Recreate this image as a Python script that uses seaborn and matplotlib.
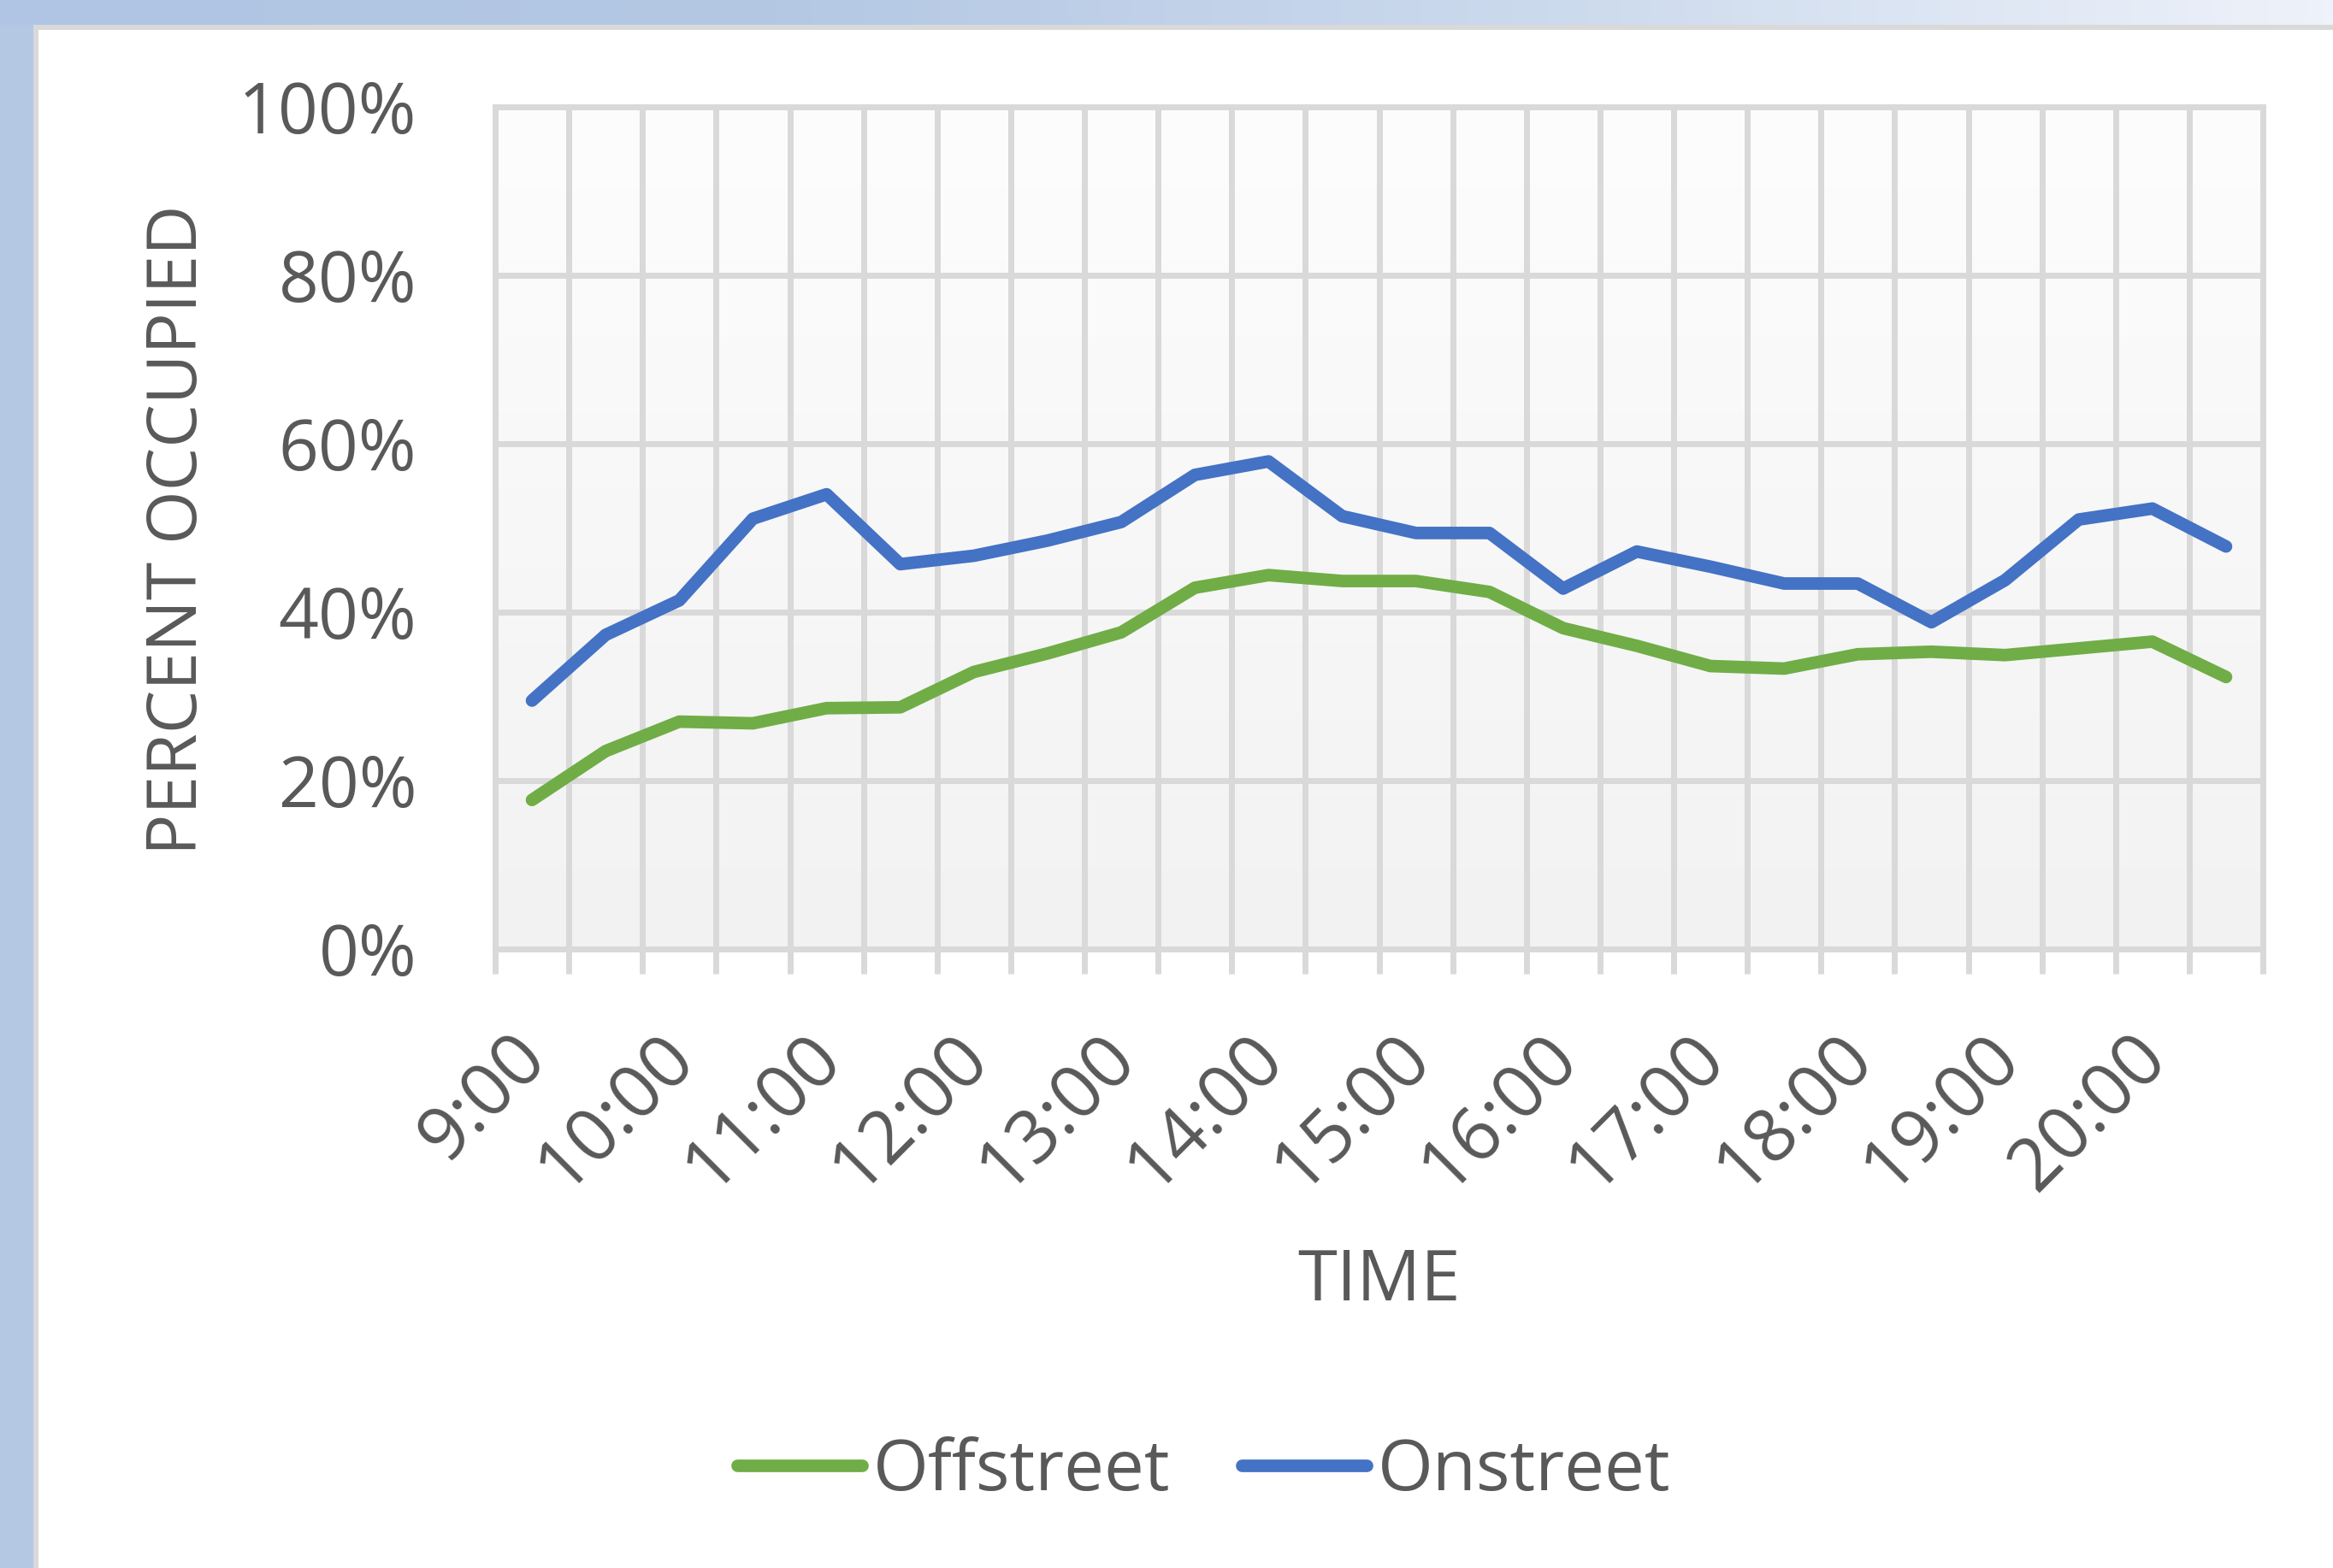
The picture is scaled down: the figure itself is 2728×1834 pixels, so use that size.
import numpy as np
import pandas as pd
import matplotlib
matplotlib.use("Agg")
import matplotlib.pyplot as plt
import matplotlib.transforms as mtrans
import seaborn as sns
from matplotlib.colors import LinearSegmentedColormap
from matplotlib.patches import Rectangle
from matplotlib.ticker import PercentFormatter, FixedLocator

# half-hour time slots, 9:00 through 20:30
times = ['9:00', '9:30', '10:00', '10:30', '11:00', '11:30', '12:00', '12:30',
         '13:00', '13:30', '14:00', '14:30', '15:00', '15:30', '16:00', '16:30',
         '17:00', '17:30', '18:00', '18:30', '19:00', '19:30', '20:00', '20:30']
offstreet = [17.7, 23.5, 27.0, 26.8, 28.6, 28.7, 32.9, 35.1, 37.6, 42.9, 44.4, 43.7,
             43.7, 42.4, 38.1, 36.0, 33.6, 33.3, 35.0, 35.3, 34.9, 35.7, 36.5, 32.3]
onstreet = [29.5, 37.3, 41.4, 51.1, 54.0, 45.7, 46.7, 48.5, 50.7, 56.3, 57.9, 51.4,
            49.4, 49.4, 42.8, 47.2, 45.4, 43.4, 43.4, 38.8, 43.8, 51.0, 52.3, 47.8]
hour_labels = ['9:00', '10:00', '11:00', '12:00', '13:00', '14:00',
               '15:00', '16:00', '17:00', '18:00', '19:00', '20:00']

df = pd.DataFrame({'Time': times, 'Offstreet': offstreet, 'Onstreet': onstreet})
df['pos'] = range(len(df))
long = df.melt(id_vars=['Time', 'pos'], var_name='Type', value_name='Occupied')

sns.set_theme(style='white')
plt.rcParams['font.family'] = ['Open Sans', 'DejaVu Sans']

TXT = '#595959'
GRID = '#D9D9D9'
W, H, DPI = 2728, 1834, 200
fig = plt.figure(figsize=(W / DPI, H / DPI), dpi=DPI)
fig.patch.set_facecolor('white')

# window frame: blue gradient strip on top, blue strip on left, grey border
top_ax = fig.add_axes([0, 1 - 29 / H, 1, 29 / H])
top_cmap = LinearSegmentedColormap.from_list('top', ['#AFC5E3', '#B4C8E4', '#CCDAED', '#EEF2FA'])
top_ax.imshow(np.linspace(0, 1, 256)[None, :], aspect='auto', cmap=top_cmap,
              extent=(0, 1, 0, 1))
top_ax.axis('off')
fig.patches.append(Rectangle((0, 0), 39 / W, 1, transform=fig.transFigure,
                             facecolor='#B4C8E4', edgecolor='none', zorder=-1))
fig.patches.append(Rectangle((39 / W, 0), 6 / W, 1 - 29 / H, transform=fig.transFigure,
                             facecolor=GRID, edgecolor='none', zorder=-1))
fig.patches.append(Rectangle((39 / W, 1 - 35 / H), 1, 6 / H, transform=fig.transFigure,
                             facecolor=GRID, edgecolor='none', zorder=-1))

ax = fig.add_axes([579 / W, 1 - 1110 / H, (2646 - 579) / W, (1110 - 125) / H])

# plot-area vertical gradient
bg_cmap = LinearSegmentedColormap.from_list('bg', ['#F2F2F2', '#FDFDFD'])
ax.imshow(np.linspace(0, 1, 256)[:, None], aspect='auto', cmap=bg_cmap, origin='lower',
          extent=(-0.5, len(times) - 0.5, 0, 100), zorder=0)

palette = {'Offstreet': '#70AD47', 'Onstreet': '#4472C4'}
sns.lineplot(data=long, x='pos', y='Occupied', hue='Type', palette=palette,
             ax=ax, legend=False, zorder=3)
for ln in ax.get_lines():
    ln.set_linewidth(5.3)
    ln.set_solid_joinstyle('round')

ax.set_xlim(-0.5, len(times) - 0.5)
ax.set_ylim(0, 100)
ax.set_yticks(range(0, 101, 20))
ax.yaxis.set_major_formatter(PercentFormatter(100, decimals=0))

ax.set_xticks(range(0, len(times), 2))
ax.set_xticklabels(hour_labels, rotation=45, ha='right', va='top', rotation_mode='anchor')
ax.xaxis.set_minor_locator(FixedLocator(np.arange(-0.5, len(times), 1)))

ax.grid(False)
ax.grid(which='minor', axis='x', color=GRID, linewidth=2.5)
ax.grid(which='major', axis='y', color=GRID, linewidth=2.5)
ax.set_axisbelow(True)
for s in ax.spines.values():
    s.set_visible(True)
    s.set_color(GRID)
    s.set_linewidth(2.5)

ax.tick_params(axis='x', which='major', length=0, pad=30, labelsize=31, labelcolor=TXT)
ax.tick_params(axis='x', which='minor', bottom=True, length=10.4, width=2.5,
               color=GRID, direction='out')
ax.tick_params(axis='y', which='both', length=0, pad=33, labelsize=29.5, labelcolor=TXT)

# nudge rotated hour labels left (after tick_params, which resets transforms)
shift = mtrans.ScaledTranslation(-27 / DPI, 0, fig.dpi_scale_trans)
for lbl in ax.get_xticklabels():
    lbl.set_transform(lbl.get_transform() + shift)

ax.set_xlabel('TIME', fontsize=30, color=TXT, va='baseline')
ax.xaxis.set_label_coords(1612 / W, 1 - 1521 / H, transform=fig.transFigure)
ax.set_ylabel('PERCENT OCCUPIED', fontsize=29, color=TXT, va='baseline')
ax.yaxis.set_label_coords(230 / W, 1 - 620 / H, transform=fig.transFigure)

handles = ax.get_lines()[:2]
fig.legend(handles, ['Offstreet', 'Onstreet'], loc='center', bbox_to_anchor=(0.516, 0.061),
           ncol=2, frameon=False, fontsize=30, labelcolor=TXT, handlelength=1.75,
           handletextpad=0.16, columnspacing=1.0)

fig.savefig('out.png', dpi=DPI)
